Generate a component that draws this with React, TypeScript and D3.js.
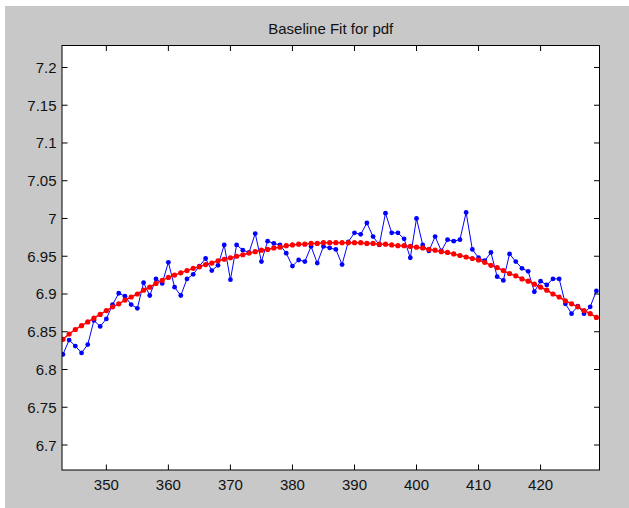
import React from "react";
import * as d3 from "d3";

const title = "Baseline Fit for pdf";
const xStart = 343;
const measured = [
  6.820, 6.839, 6.831, 6.822, 6.833, 6.865, 6.857, 6.867, 6.886, 6.901,
  6.897, 6.886, 6.881, 6.915, 6.898, 6.920, 6.914, 6.942, 6.909, 6.898,
  6.920, 6.926, 6.937, 6.947, 6.931, 6.938, 6.965, 6.919, 6.965, 6.958,
  6.955, 6.980, 6.943, 6.970, 6.967, 6.965, 6.954, 6.937, 6.945, 6.943,
  6.963, 6.941, 6.963, 6.961, 6.959, 6.939, 6.969, 6.981, 6.979, 6.994,
  6.976, 6.965, 7.007, 6.981, 6.981, 6.973, 6.948, 7.000, 6.965, 6.957,
  6.976, 6.957, 6.972, 6.970, 6.972, 7.008, 6.959, 6.948, 6.944, 6.955,
  6.923, 6.918, 6.953, 6.943, 6.934, 6.930, 6.903, 6.917, 6.912, 6.920,
  6.920, 6.887, 6.874, 6.884, 6.874, 6.883, 6.904,
];
const baseline = [
  6.840, 6.847, 6.853, 6.858, 6.863, 6.868, 6.873, 6.878, 6.883, 6.887,
  6.892, 6.896, 6.900, 6.905, 6.909, 6.914, 6.918, 6.922, 6.925, 6.928,
  6.931, 6.934, 6.936, 6.939, 6.941, 6.944, 6.946, 6.948, 6.950, 6.952,
  6.954, 6.956, 6.958, 6.959, 6.961, 6.962, 6.964, 6.965, 6.966, 6.966,
  6.967, 6.967, 6.968, 6.968, 6.968, 6.968, 6.968, 6.968, 6.968, 6.967,
  6.967, 6.966, 6.966, 6.965, 6.964, 6.964, 6.963, 6.962, 6.961, 6.959,
  6.958, 6.956, 6.955, 6.953, 6.951, 6.949, 6.947, 6.945, 6.942, 6.938,
  6.935, 6.931, 6.927, 6.924, 6.920, 6.917, 6.913, 6.909, 6.905, 6.900,
  6.896, 6.891, 6.887, 6.883, 6.878, 6.874, 6.869,
];
const xTicks = [350, 360, 370, 380, 390, 400, 410, 420];
const yTicks = [6.7, 6.75, 6.8, 6.85, 6.9, 6.95, 7, 7.05, 7.1, 7.15, 7.2];

const W = 629;
const H = 508;
const L = 62, R = 599.5, T = 45.5, B = 470;
const font = "'Liberation Sans', Arial, sans-serif";

export default function App() {
  const x = d3.scaleLinear().domain([342.85, 429.5]).range([L, R]);
  const y = d3.scaleLinear().domain([6.6669, 7.2291]).range([B, T]);
  const mPts = measured.map((v, i) => [xStart + i, v] as [number, number]);
  const bPts = baseline.map((v, i) => [xStart + i, v] as [number, number]);
  const line = d3.line<[number, number]>().x(d => x(d[0])).y(d => y(d[1]));
  const tl = 5.5;
  return (
    <svg width={W} height={H} style={{ position: "absolute", left: 0, top: 0 }}>
      <rect x={0} y={0} width={W} height={H} fill="#ffffff" />
      <rect x={5} y={6} width={W - 5} height={H - 6} fill="#c8c8c8" />
      <rect x={L} y={T} width={R - L} height={B - T} fill="#ffffff" />
      <defs>
        <clipPath id="plotclip">
          <rect x={L} y={T} width={R - L} height={B - T} />
        </clipPath>
      </defs>
      <g clipPath="url(#plotclip)">
        <path d={line(mPts) || ""} fill="none" stroke="#0000ff" strokeWidth={1} />
        {mPts.map((d, i) => (
          <circle key={"m" + i} cx={x(d[0])} cy={y(d[1])} r={2.4} fill="#0000ff" />
        ))}
        <path d={line(bPts) || ""} fill="none" stroke="#ff0000" strokeWidth={1.5} />
        {bPts.map((d, i) => (
          <circle key={"b" + i} cx={x(d[0])} cy={y(d[1])} r={2.6} fill="#ff0000" />
        ))}
      </g>
      <rect x={L} y={T} width={R - L} height={B - T} fill="none" stroke="#000" strokeWidth={1} />
      {xTicks.map(t => (
        <g key={"xt" + t}>
          <line x1={x(t)} x2={x(t)} y1={B} y2={B - tl} stroke="#000" />
          <line x1={x(t)} x2={x(t)} y1={T} y2={T + tl} stroke="#000" />
          <text x={x(t)} y={490} textAnchor="middle" fontFamily={font} fontSize={15} fill="#111">
            {t}
          </text>
        </g>
      ))}
      {yTicks.map(t => (
        <g key={"yt" + t}>
          <line x1={L} x2={L + tl} y1={y(t)} y2={y(t)} stroke="#000" />
          <line x1={R} x2={R - tl} y1={y(t)} y2={y(t)} stroke="#000" />
          <text x={56.5} y={y(t) + 5.5} textAnchor="end" fontFamily={font} fontSize={15} fill="#111">
            {d3.format("")(+t.toFixed(2))}
          </text>
        </g>
      ))}
      <text x={(L + R) / 2} y={34} textAnchor="middle" fontFamily={font} fontSize={15} fill="#111">
        {title}
      </text>
    </svg>
  );
}
